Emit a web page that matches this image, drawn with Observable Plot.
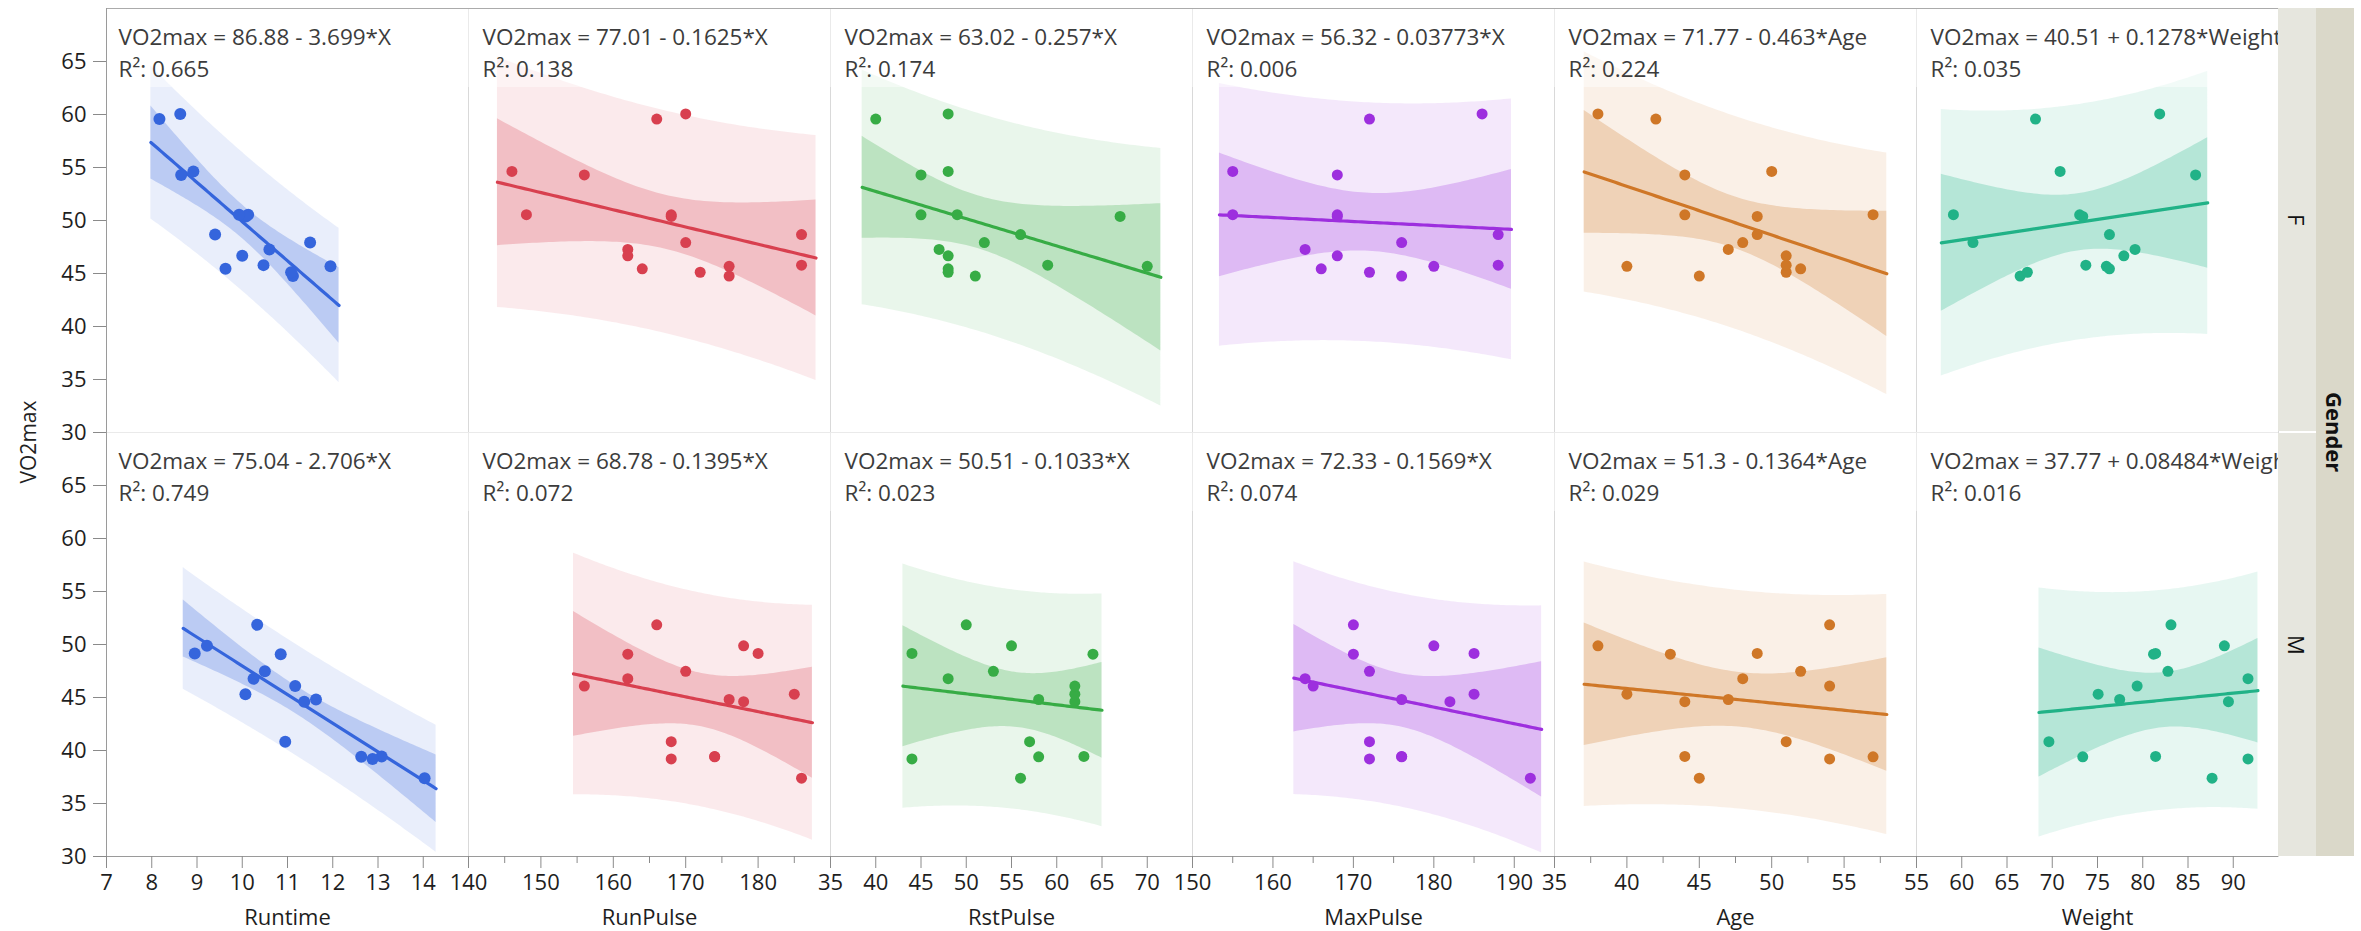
<!DOCTYPE html>
<html>
<head>
<meta charset="utf-8">
<script src="https://cdn.jsdelivr.net/npm/d3@7"></script>
<script src="https://cdn.jsdelivr.net/npm/@observablehq/plot@0.6"></script>
<style>
  body { margin: 0; background: #fff; font-family: "Open Sans", sans-serif; }
  #chart { position: relative; width: 2361px; height: 931px; overflow: hidden; background: #fff; }
  .panel { position: absolute; }
  #ytitle { position: absolute; left: 28px; top: 442px; transform: translate(-50%, -50%) rotate(-90deg);
            font-size: 21px; color: #222; white-space: nowrap; }
  .strip { position: absolute; display: flex; align-items: center; justify-content: center;
           writing-mode: vertical-rl; font-size: 22px; color: #111; }
</style>
</head>
<body>
<div id="chart"></div>
<script>
// ---------------- data (Fitness data, by Gender) ----------------
const variables = ["Runtime", "RunPulse", "RstPulse", "MaxPulse", "Age", "Weight"];
const genders = ["F", "M"];
const yLabel = "VO2max";

const vo2maxF   = [54.297, 59.571, 45.681, 60.055, 50.541, 44.754, 47.273, 46.672, 50.388, 45.441, 54.625, 45.118, 45.790, 50.545, 48.673, 47.920];
const runtimeF  = [8.65, 8.17, 11.95, 8.63, 10.13, 11.12, 10.60, 10.00, 10.08, 9.63, 8.92, 11.08, 10.47, 9.93, 9.40, 11.50];
const runPulseF = [156, 166, 176, 170, 168, 176, 162, 162, 168, 164, 146, 172, 186, 148, 186, 170];
const rstPulseF = [45, 40, 70, 48, 45, 51, 47, 48, 67, 48, 48, 48, 59, 49, 56, 52];
const maxPulseF = [168, 172, 180, 186, 168, 176, 164, 168, 168, 166, 155, 172, 188, 155, 188, 176];
const ageF      = [44, 42, 40, 38, 44, 45, 47, 51, 49, 52, 50, 51, 51, 57, 49, 48];
const weightF   = [85.84, 68.15, 75.98, 81.87, 73.03, 66.45, 79.15, 77.91, 73.37, 76.32, 70.87, 67.25, 73.71, 59.08, 76.32, 61.24];

const vo2maxM   = [44.609, 45.313, 49.874, 44.811, 49.091, 39.442, 37.388, 51.855, 49.156, 40.836, 46.774, 39.407, 46.080, 39.203, 47.467];
const runtimeM  = [11.37, 10.07, 9.22, 11.63, 10.85, 13.08, 14.03, 10.33, 8.95, 10.95, 10.25, 12.63, 11.17, 12.88, 10.50];
const runPulseM = [178, 185, 178, 176, 162, 174, 186, 166, 180, 168, 162, 174, 156, 168, 170];
const rstPulseM = [62, 62, 55, 58, 64, 63, 56, 50, 44, 57, 48, 58, 62, 44, 53];
const maxPulseM = [182, 185, 180, 176, 170, 176, 192, 170, 185, 172, 164, 176, 165, 172, 172];
const ageM      = [44, 40, 38, 47, 43, 44, 45, 54, 49, 51, 48, 57, 54, 54, 52];
const weightM   = [89.47, 75.07, 89.02, 77.45, 81.19, 81.42, 87.66, 83.12, 81.42, 69.63, 91.63, 73.37, 79.38, 91.63, 82.78];

const equationsF = ["VO2max = 86.88 - 3.699*X", "VO2max = 77.01 - 0.1625*X", "VO2max = 63.02 - 0.257*X",
                    "VO2max = 56.32 - 0.03773*X", "VO2max = 71.77 - 0.463*Age", "VO2max = 40.51 + 0.1278*Weight"];
const equationsM = ["VO2max = 75.04 - 2.706*X", "VO2max = 68.78 - 0.1395*X", "VO2max = 50.51 - 0.1033*X",
                    "VO2max = 72.33 - 0.1569*X", "VO2max = 51.3 - 0.1364*Age", "VO2max = 37.77 + 0.08484*Weight"];
const rsquareF = ["R²: 0.665", "R²: 0.138", "R²: 0.174", "R²: 0.006", "R²: 0.224", "R²: 0.035"];
const rsquareM = ["R²: 0.749", "R²: 0.072", "R²: 0.023", "R²: 0.074", "R²: 0.029", "R²: 0.016"];

const xDomains = [[7, 15], [140, 190], [35, 75], [150, 195], [35, 60], [55, 95]];
const xMajorTicks = [[7, 8, 9, 10, 11, 12, 13, 14], [140, 150, 160, 170, 180], [35, 40, 45, 50, 55, 60, 65, 70],
                     [150, 160, 170, 180, 190], [35, 40, 45, 50, 55], [55, 60, 65, 70, 75, 80, 85, 90]];
const xMinorTicks = [[], [145, 155, 165, 175, 185], [], [155, 165, 175, 185], [37.5, 42.5, 47.5, 52.5, 57.5], []];
const yDomain = [30, 70];
const yTicks = [30, 35, 40, 45, 50, 55, 60, 65];
const colors = ["#3565dc", "#d8404f", "#37ac45", "#9d2fde", "#cf7727", "#21b287"];

// Student t 97.5% quantiles by degrees of freedom
const t975 = {13: 2.160369, 14: 2.144787};

const xData = {F: [runtimeF, runPulseF, rstPulseF, maxPulseF, ageF, weightF],
               M: [runtimeM, runPulseM, rstPulseM, maxPulseM, ageM, weightM]};
const yData = {F: vo2maxF, M: vo2maxM};
const eqs = {F: equationsF, M: equationsM};
const r2s = {F: rsquareF, M: rsquareM};

// ---------------- least squares fit with 95% bands ----------------
function fitBands(xs, ys) {
  const n = xs.length, mx = d3.mean(xs), my = d3.mean(ys);
  let sxx = 0, sxy = 0;
  for (let i = 0; i < n; i++) { sxx += (xs[i] - mx) ** 2; sxy += (xs[i] - mx) * (ys[i] - my); }
  const b = sxy / sxx, a = my - b * mx;
  let sse = 0;
  for (let i = 0; i < n; i++) sse += (ys[i] - a - b * xs[i]) ** 2;
  const s = Math.sqrt(sse / (n - 2)), t = t975[n - 2];
  const [lo, hi] = d3.extent(xs), pad = 0.05 * (hi - lo);
  const steps = 80;
  return d3.range(steps + 1).map(i => {
    const x = lo - pad + i * (hi - lo + 2 * pad) / steps;
    const yh = a + b * x, h = 1 / n + (x - mx) ** 2 / sxx;
    const c = t * s * Math.sqrt(h), p = t * s * Math.sqrt(1 + h);
    return {x, yhat: yh, cl: yh - c, cu: yh + c, pl: yh - p, pu: yh + p};
  });
}

// ---------------- layout ----------------
const chart = document.getElementById("chart");
const gridLeft = 106, gridTop = 8, panelW = 362, panelH = 424;
const labelBoxPx = 79;
const fontFamily = "'Open Sans', sans-serif";

genders.forEach((g, ri) => {
  variables.forEach((v, ci) => {
    const isLeft = ci === 0, isBottom = ri === 1;
    const mL = isLeft ? 106 : 1, mR = 1, mT = 1, mB = isBottom ? 75 : 1;
    const xs = xData[g][ci], ys = yData[g];
    const pts = xs.map((x, i) => ({x, y: ys[i]}));
    const curve = fitBands(xs, ys);
    const col = colors[ci];
    const xd = xDomains[ci];
    const boxBottom = yDomain[1] - labelBoxPx * (yDomain[1] - yDomain[0]) / panelH;
    const textDx = isLeft ? 12 : 14;

    const marks = [
      Plot.frame({stroke: "#d9d9d9"}),
      Plot.areaY(curve, {x: "x", y1: "pl", y2: "pu", fill: col, fillOpacity: 0.11, clip: true}),
      Plot.areaY(curve, {x: "x", y1: "cl", y2: "cu", fill: col, fillOpacity: 0.25, clip: true}),
      Plot.rect([0], {x1: () => xd[0], x2: () => xd[1], y1: () => boxBottom, y2: () => yDomain[1],
                      fill: "white", fillOpacity: 0.45}),
      Plot.line(curve, {x: "x", y: "yhat", stroke: col, strokeWidth: 3.2, clip: true}),
      Plot.dot(pts, {x: "x", y: "y", r: isLeft ? 6 : 5.5, fill: col, stroke: "none"}),
      Plot.text([eqs[g][ci]], {frameAnchor: "top-left", textAnchor: "start", lineAnchor: "bottom",
                               dx: textDx, dy: 36, fontSize: 22.5, fill: "#3c3c3c", clip: true}),
      Plot.text([r2s[g][ci]], {frameAnchor: "top-left", textAnchor: "start", lineAnchor: "bottom",
                               dx: textDx, dy: 68, fontSize: 22.5, fill: "#3c3c3c", clip: true})
    ];
    if (ri === 0) marks.push(Plot.ruleY([yDomain[1]], {stroke: "#ababab"}));
    if (isLeft) {
      marks.push(Plot.ruleX([xd[0]], {stroke: "#9a9a9a"}));
      marks.push(Plot.axisY(yTicks, {tickSize: 13, tickPadding: 7, stroke: "#8a8a8a", fill: "#1e1e1e",
                                      fontSize: 22, label: null}));
    }
    if (isBottom) {
      marks.push(Plot.ruleY([yDomain[0]], {stroke: "#9a9a9a"}));
      marks.push(Plot.axisX(xMajorTicks[ci], {tickSize: 12, tickPadding: 6, stroke: "#8a8a8a", fill: "#1e1e1e",
                                               fontSize: 22, label: null}));
      if (xMinorTicks[ci].length)
        marks.push(Plot.axisX(xMinorTicks[ci], {tickSize: 7, stroke: "#8a8a8a", text: null, label: null}));
      marks.push(Plot.text([v], {frameAnchor: "bottom", lineAnchor: "bottom", dy: 68, fontSize: 22, fill: "#1e1e1e"}));
    }

    const svg = Plot.plot({
      width: panelW + mL + mR,
      height: panelH + mT + mB,
      marginLeft: mL, marginRight: mR, marginTop: mT, marginBottom: mB,
      x: {domain: xd, axis: null, label: null},
      y: {domain: yDomain, axis: null, label: null},
      style: {background: "transparent", maxWidth: "none", overflow: "visible",
              fontFamily, fontSize: "22px", color: "#1e1e1e"},
      marks
    });
    const wrap = document.createElement("div");
    wrap.className = "panel";
    wrap.style.left = (gridLeft + ci * panelW - mL) + "px";
    wrap.style.top = (gridTop + ri * panelH - mT) + "px";
    wrap.appendChild(svg);
    chart.appendChild(wrap);
  });
});

// y axis title
const yt = document.createElement("div");
yt.id = "ytitle";
yt.textContent = yLabel;
chart.appendChild(yt);

// Gender strip on the right
const stripLeft = gridLeft + 6 * panelW;
genders.forEach((g, ri) => {
  const s = document.createElement("div");
  s.className = "strip";
  Object.assign(s.style, {left: stripLeft + "px", top: (gridTop + ri * panelH + (ri ? 1 : 0)) + "px",
                          width: "38px", height: (panelH - 1) + "px", background: "#e6e6de"});
  s.textContent = g;
  chart.appendChild(s);
});
const gs = document.createElement("div");
gs.className = "strip";
Object.assign(gs.style, {left: (stripLeft + 38) + "px", top: gridTop + "px", width: "38px",
                         height: (2 * panelH) + "px", background: "#dad8c9", fontWeight: "bold"});
gs.textContent = "Gender";
chart.appendChild(gs);
</script>
</body>
</html>
